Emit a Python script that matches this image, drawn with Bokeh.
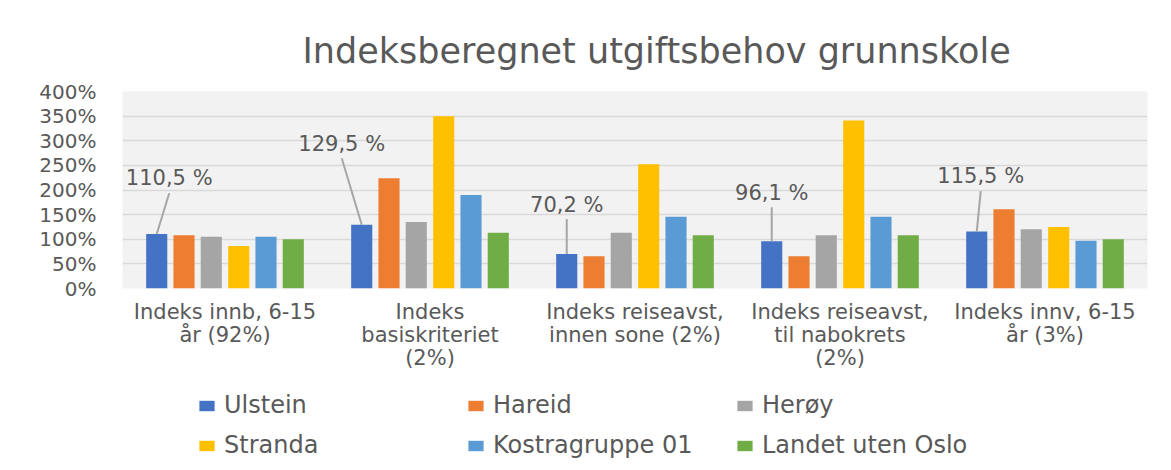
from bokeh.plotting import figure
from bokeh.layouts import column
from bokeh.models import (ColumnDataSource, FactorRange, Range1d, PrintfTickFormatter,
                          Legend, LegendItem, Title, FixedTicker, CategoricalAxis,
                          CustomJSTickFormatter)
from bokeh.transform import dodge
from bokeh.core.properties import value
from bokeh.embed import file_html
from bokeh.resources import INLINE

# ---------------- data ----------------
categories = ["Indeks innb, 6-15 år (92%)",
              "Indeks basiskriteriet (2%)",
              "Indeks reiseavst, innen sone (2%)",
              "Indeks reiseavst, til nabokrets (2%)",
              "Indeks innv, 6-15 år (3%)"]
tick_lines = [["Indeks innb, 6-15", "år (92%)", ""],
              ["Indeks", "basiskriteriet", "(2%)"],
              ["Indeks reiseavst,", "innen sone (2%)", ""],
              ["Indeks reiseavst,", "til nabokrets", "(2%)"],
              ["Indeks innv, 6-15", "år (3%)", ""]]
series_names = ["Ulstein", "Hareid", "Herøy", "Stranda", "Kostragruppe 01", "Landet uten Oslo"]
ulstein = [110.5, 129.5, 70.2, 96.1, 115.5]
hareid = [108.0, 224.0, 65.5, 65.5, 161.0]
heroy = [105.0, 135.0, 113.0, 108.0, 120.5]
stranda = [86.5, 350.0, 252.5, 341.0, 125.0]
kostragruppe = [105.0, 190.0, 145.5, 145.5, 97.0]
landet = [100.0, 113.0, 108.0, 108.0, 100.0]
y_ticks = [0, 50, 100, 150, 200, 250, 300, 350, 400]

# ---------------- style ----------------
colors = ["#4472C4", "#ED7D31", "#A5A5A5", "#FFC000", "#5B9BD5", "#70AD47"]
offsets = [-0.333, -0.2, -0.067, 0.067, 0.2, 0.333]
bar_w = 0.103
# data-label placement (pixel dx from bar centre, label y, leader top y in %)
label_dx_px = [12.5, -20, 0, 0, 4]
label_y = [224, 293, 169, 193.5, 228]
leader_top = [193.5, 264.6, 141, 165, 197.6]
px_per_cat = 205.0

FONT = "DejaVu Sans"
GREY = "#595959"

src = ColumnDataSource(dict(cat=categories, Ulstein=ulstein, Hareid=hareid, Herøy=heroy,
                            Stranda=stranda, Kostra=kostragruppe, Landet=landet))
fields = ["Ulstein", "Hareid", "Herøy", "Stranda", "Kostra", "Landet"]

p = figure(x_range=FactorRange(*categories), y_range=Range1d(0, 400),
           frame_width=1025, frame_height=197,
           min_border_left=122, min_border_right=16, min_border_top=91, min_border_bottom=95,
           output_backend="svg", toolbar_location=None)
p.background_fill_color = "#f2f2f2"
p.border_fill_color = "white"
p.outline_line_color = None

p.title = Title(text="Indeksberegnet utgiftsbehov grunnskole", align="left",
                text_font=FONT, text_font_size="35px", text_font_style="normal",
                text_color=GREY, standoff=42, offset=180)

for f, c, off in zip(fields, colors, offsets):
    p.vbar(x=dodge("cat", off, range=p.x_range), top=f, width=bar_w, source=src,
           fill_color=c, line_color=None)

# data labels for Ulstein with leader lines
bar_x = [i + 0.5 + offsets[0] for i in range(len(categories))]
lab_x = [bx + dx / px_per_cat for bx, dx in zip(bar_x, label_dx_px)]
lab_txt = [("%.1f" % v).replace(".", ",") + " %" for v in ulstein]
p.segment(x0=lab_x, y0=leader_top, x1=bar_x, y1=ulstein, line_color="#a6a6a6", line_width=2)
p.text(x=lab_x, y=label_y, text=lab_txt, text_align="center", text_baseline="middle",
       text_font=value(FONT), text_font_size="21px", text_color=GREY)

# axes
p.yaxis.ticker = FixedTicker(ticks=y_ticks)
p.yaxis.formatter = PrintfTickFormatter(format="%d%%")
p.yaxis.axis_line_color = None
p.yaxis.major_tick_line_color = None
p.yaxis.minor_tick_line_color = None
p.yaxis.major_tick_out = 0
p.yaxis.major_label_standoff = 26
p.yaxis.major_label_text_font = FONT
p.yaxis.major_label_text_font_size = "20px"
p.yaxis.major_label_text_color = GREY

xaxes = [p.xaxis[0]]
for k in range(2):
    ax = CategoricalAxis()
    p.add_layout(ax, "below")
    xaxes.append(ax)
for k, ax in enumerate(xaxes):
    ax.formatter = CustomJSTickFormatter(
        args=dict(cats=categories, labels=[lines[k] for lines in tick_lines]),
        code="const i = cats.indexOf(tick); return i >= 0 ? labels[i] : '';")
    ax.axis_line_color = None
    ax.major_tick_line_color = None
    ax.major_tick_out = 0
    ax.major_tick_in = 0
    ax.major_label_standoff = 11 if k == 0 else -4
    ax.major_label_text_font = FONT
    ax.major_label_text_font_size = "21px"
    ax.major_label_text_color = GREY

p.xgrid.grid_line_color = None
p.ygrid.grid_line_color = "#d9d9d9"
p.ygrid.grid_line_width = 1.5

# ---------------- legend strip (same series, renderers hidden) ----------------
p2 = figure(width=1163, height=79, x_range=FactorRange(*categories), y_range=Range1d(0, 400),
            min_border=0, output_backend="svg", toolbar_location=None)
p2.axis.visible = False
p2.grid.visible = False
p2.outline_line_color = None
p2.background_fill_color = "white"
leg_renderers = [p2.vbar(x=dodge("cat", off, range=p2.x_range), top=f, width=bar_w, source=src,
                         fill_color=c, line_color=None, visible=False)
                 for f, c, off in zip(fields, colors, offsets)]
legend = Legend(items=[LegendItem(label=n, renderers=[r]) for n, r in zip(series_names, leg_renderers)],
                location=(75, 3), orientation="horizontal", ncols=3,
                glyph_width=19, glyph_height=13, label_standoff=8, label_width=230,
                spacing=12, padding=0, margin=0, inactive_fill_alpha=0,
                label_text_font=FONT, label_text_font_size="24px", label_text_color=GREY,
                background_fill_alpha=0, border_line_color=None)
p2.add_layout(legend, "center")

layout = column(p, p2, spacing=0)
open("out.html", "w").write(file_html(layout, INLINE))
